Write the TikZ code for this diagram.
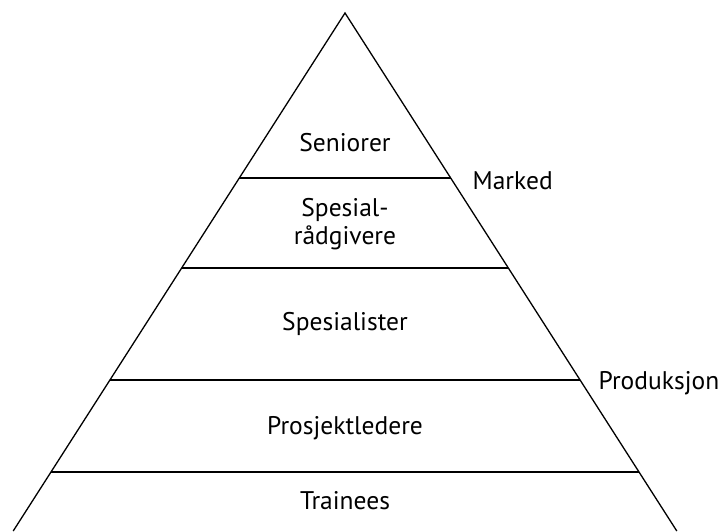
\documentclass[tikz,border=0pt]{standalone}
\usepackage{fontspec}
\setmainfont{PT Sans}
\usepackage{tikz}

\begin{document}
\begin{tikzpicture}[x=1pt, y=-1pt, line width=1.3pt,
        lvl/.style={font=\fontsize{25.5}{28}\selectfont, align=center},
        side/.style={font=\fontsize{25.5}{28}\selectfont, anchor=base west, inner sep=0pt}]
        \useasboundingbox (0, 0) rectangle (725, 531);

        % triangle
        \coordinate (top) at (345, 13);
        \coordinate (bl) at (13.2, 531);
        \coordinate (br) at (676.8, 531);
        \draw (bl) -- (top) -- (br);

        % levels
        \coordinate (l1) at (239.3, 178);
        \coordinate (r1) at (450.7, 178);
        \coordinate (l2) at (181.7, 268);
        \coordinate (r2) at (508.3, 268);
        \coordinate (l3) at (109.9, 380);
        \coordinate (r3) at (580.1, 380);
        \coordinate (l4) at (51.0, 472);
        \coordinate (r4) at (639.0, 472);
        \draw (l1) -- (r1);
        \draw (l2) -- (r2);
        \draw (l3) -- (r3);
        \draw (l4) -- (r4);

        \node[lvl] (sen) at (345, 143) {Seniorer};
        \node[lvl] (srad) at (345, 224) {Spesial-\\rådgivere};
        \node[lvl] (spes) at (345, 324) {Spesialister};
        \node[lvl] (pros) at (345, 428) {Prosjektledere};
        \node[lvl] (tra) at (345, 501) {Trainees};

        \node[side] (mark) at (472, 189) {Marked};
        \node[side] (prod) at (598, 389) {Produksjon};
    \end{tikzpicture}
\end{document}
